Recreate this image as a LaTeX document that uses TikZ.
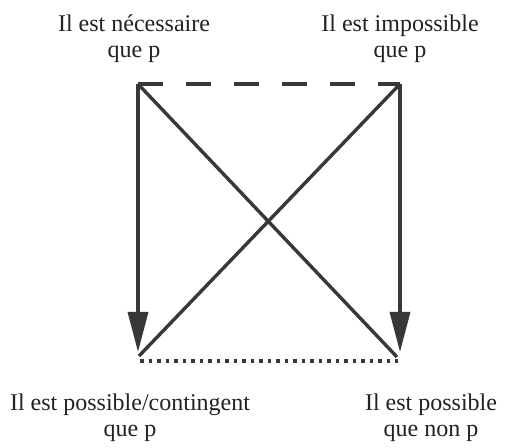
\documentclass[tikz,border=0pt]{standalone}
\usepackage{fontspec}
\setmainfont{Liberation Serif}
\usepackage{tikz}
\usetikzlibrary{arrows.meta,positioning,calc}
\definecolor{traitC}{HTML}{383838}
\definecolor{texteC}{HTML}{222222}
\tikzset{
  etiq/.style={align=center, inner sep=0pt, text=texteC,
               font=\fontsize{12}{13}\selectfont},
  fleche/.style={-{Triangle[length=20pt,width=10pt]}, line width=1.7pt, draw=traitC},
  diag/.style={line width=1.7pt, draw=traitC},
  tirets/.style={line width=1.6pt, draw=traitC, dash pattern=on 12.5pt off 11.5pt},
  points/.style={line width=1.8pt, draw=traitC, dash pattern=on 1.8pt off 2.45pt},
}

\begin{document}
\begin{tikzpicture}[x=0.5pt, y=0.5pt]
    \useasboundingbox (0,0) rectangle (508,448);
    \coordinate (nec) at (138,364);
    \coordinate (imp) at (400,364);
    \coordinate (posC) at (138,96);
    \coordinate (posN) at (400,96);
    \coordinate (coinC) at (139,92);
    \coordinate (coinN) at (397,91);
    \coordinate (ptC) at (140,87);
    \coordinate (ptN) at (398,87);
    \node[etiq] (lnec) at (134,409) {Il est nécessaire\\que p};
    \node[etiq] (limp) at (400,409) {Il est impossible\\que p};
    \node[etiq] (lposC) at (130,30) {Il est possible/contingent\\que p};
    \node[etiq] (lposN) at (431,30) {Il est possible\\que non p};
    \draw[tirets] (nec) -- (imp);
    \draw[points] (ptC) -- (ptN);
    \draw[diag] (nec) -- (coinN);
    \draw[diag] (imp) -- (coinC);
    \draw[fleche] (nec) -- (posC);
    \draw[fleche] (imp) -- (posN);
  \end{tikzpicture}
\end{document}
